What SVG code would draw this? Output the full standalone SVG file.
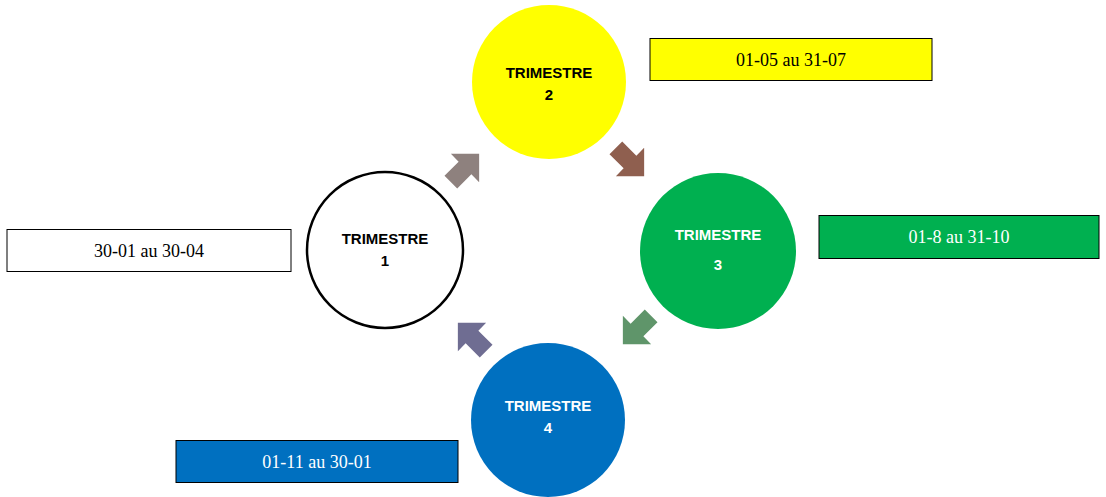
<svg xmlns="http://www.w3.org/2000/svg" width="1106" height="497" viewBox="0 0 1106 497">
<style>
.ct{font-family:"Liberation Sans",Arial,sans-serif;font-weight:bold;font-size:15px;text-anchor:middle}
.bt{font-family:"Liberation Serif","DejaVu Serif",serif;font-size:18px;text-anchor:middle}
.box{stroke:#000;stroke-width:1}
</style>
<defs>
<path id="arr" d="M-20,-9 L0,-9 L0,-20 L20,0 L0,20 L0,9 L-20,9 Z"/>
</defs>
<rect width="1106" height="497" fill="#fff"/>
<g id="connectors">
<use href="#arr" fill="#8e817e" transform="translate(465,168) rotate(-45)"/>
<use href="#arr" fill="#8f5f4f" transform="translate(630,162) rotate(45)"/>
<use href="#arr" fill="#5f956a" transform="translate(637,330) rotate(135)"/>
<use href="#arr" fill="#6f6d92" transform="translate(472,337) rotate(-135)"/>
</g>
<g id="t1"><circle cx="385" cy="250" r="78" fill="#fff" stroke="#000" stroke-width="2.5"/>
<text class="ct" x="385" y="244">TRIMESTRE</text><text class="ct" x="385" y="266">1</text></g>
<g id="t2"><circle cx="549" cy="82" r="77" fill="#ffff00"/>
<text class="ct" x="549" y="78">TRIMESTRE</text><text class="ct" x="549" y="100">2</text></g>
<g id="t3"><circle cx="718" cy="251" r="78" fill="#00b050"/>
<text class="ct" x="718" y="240" fill="#fff">TRIMESTRE</text><text class="ct" x="718" y="270" fill="#fff">3</text></g>
<g id="t4"><circle cx="548" cy="420" r="77" fill="#0070c0"/>
<text class="ct" x="548" y="411" fill="#fff">TRIMESTRE</text><text class="ct" x="548" y="433" fill="#fff">4</text></g>
<g id="b1"><rect class="box" x="7" y="229.5" width="284" height="42" fill="#fff"/><text class="bt" x="149" y="257">30-01 au 30-04</text></g>
<g id="b2"><rect class="box" x="650" y="38.5" width="282" height="42" fill="#ffff00"/><text class="bt" x="791" y="66">01-05 au 31-07</text></g>
<g id="b3"><rect class="box" x="819" y="215.5" width="280" height="43" fill="#00b050"/><text class="bt" x="959" y="243" fill="#fff">01-8 au 31-10</text></g>
<g id="b4"><rect class="box" x="176" y="440.5" width="282" height="42" fill="#0070c0"/><text class="bt" x="317" y="468" fill="#fff">01-11 au 30-01</text></g>
</svg>
